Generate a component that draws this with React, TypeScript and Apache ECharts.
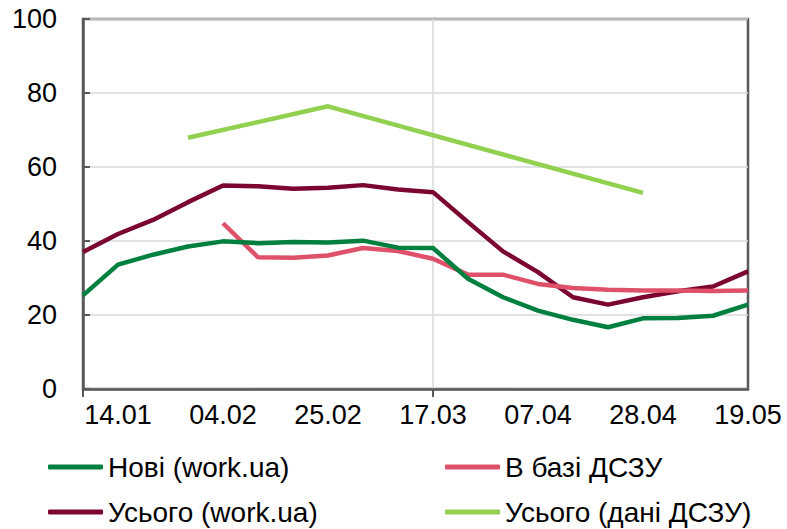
import React, { useEffect, useRef } from "react";
import * as echarts from "echarts";

const categories = [
  "07.01", "14.01", "21.01", "28.01", "04.02", "11.02", "18.02", "25.02", "04.03", "10.03",
  "17.03", "24.03", "31.03", "07.04", "14.04", "21.04", "28.04", "05.05", "12.05", "19.05",
];

const noviWork = [25.3, 33.6, 36.3, 38.5, 39.9, 39.4, 39.7, 39.6, 40.1, 38.2, 38.1, 29.8, 24.8, 21.2, 18.7, 16.7, 19.1, 19.2, 19.8, 22.8];
const vBaziDSZU = [null, null, null, null, 44.8, 35.6, 35.5, 36.1, 38.1, 37.3, 35.2, 30.9, 30.9, 28.4, 27.3, 26.8, 26.6, 26.6, 26.5, 26.6];
const usogoWork = [37.0, 41.9, 45.7, 50.5, 55.0, 54.8, 54.1, 54.4, 55.1, 53.9, 53.2, 45.1, 37.2, 31.6, 24.8, 22.8, 24.8, 26.4, 27.7, 31.8];
const usogoDSZU = [null, null, null, 67.9, null, null, null, 76.4, null, null, null, null, null, null, null, null, 53.0, null, null, null];

const seriesNames = ["Нові (work.ua)", "В базі ДСЗУ", "Усього (work.ua)", "Усього (дані ДСЗУ)"];
const colors = ["#00803e", "#de5168", "#7a0631", "#92d050"];

const FONT = "'Liberation Sans', Arial, sans-serif";

export default function App() {
  const ref = useRef<HTMLDivElement>(null);
  useEffect(() => {
    document.body.style.margin = "0";
    const chart = echarts.init(ref.current!, null, { renderer: "svg" });
    const dataSets = [noviWork, vBaziDSZU, usogoWork, usogoDSZU];
    const legendPos = [
      { left: 48, top: 452 },
      { left: 445, top: 452 },
      { left: 48, top: 497 },
      { left: 445, top: 497 },
    ];
    chart.setOption({
      animation: false,
      textStyle: { fontFamily: FONT },
      grid: {
        left: 83, right: 39, top: 19, bottom: 140,
        show: true, borderColor: "#595959", borderWidth: 2.5,
        containLabel: false,
      },
      legend: seriesNames.map((n, i) => ({
        data: [n],
        left: legendPos[i].left,
        top: legendPos[i].top,
        padding: 0,
        icon: "roundRect",
        itemWidth: 55,
        itemHeight: 5,
        selectedMode: false,
        textStyle: { fontSize: 28, color: "#000", fontFamily: FONT, lineHeight: 30 },
      })),
      xAxis: {
        type: "category",
        data: categories,
        boundaryGap: false,
        axisLine: { lineStyle: { color: "#595959", width: 2.5 } },
        axisTick: { show: true, length: 8, interval: (i: number) => i % 10 === 0, lineStyle: { color: "#595959", width: 2 } },
        axisLabel: {
          interval: (i: number) => i % 3 === 1,
          fontSize: 27, color: "#000", fontFamily: FONT, margin: 12,
        },
        splitLine: { show: true, interval: (i: number) => i === 10, lineStyle: { color: "#d9d9d9", width: 1.5 } },
      },
      yAxis: {
        type: "value",
        min: 0, max: 100, interval: 20,
        axisLine: { show: true, lineStyle: { color: "#595959", width: 2.5 } },
        axisTick: { show: true, inside: true, length: 7, lineStyle: { color: "#595959", width: 2 } },
        axisLabel: { fontSize: 27, color: "#000", fontFamily: FONT, margin: 26 },
        splitLine: { show: true, lineStyle: { color: "#d9d9d9", width: 1.5 } },
      },
      series: seriesNames.map((n, i) => ({
        name: n,
        type: "line",
        data: dataSets[i],
        connectNulls: true,
        showSymbol: false,
        symbol: "none",
        color: colors[i],
        lineStyle: { color: colors[i], width: 4.5 },
        z: i === 3 ? 1 : 2 + (3 - i),
      })),
    });
    return () => chart.dispose();
  }, []);
  return <div ref={ref} style={{ width: 787, height: 529 }} />;
}
